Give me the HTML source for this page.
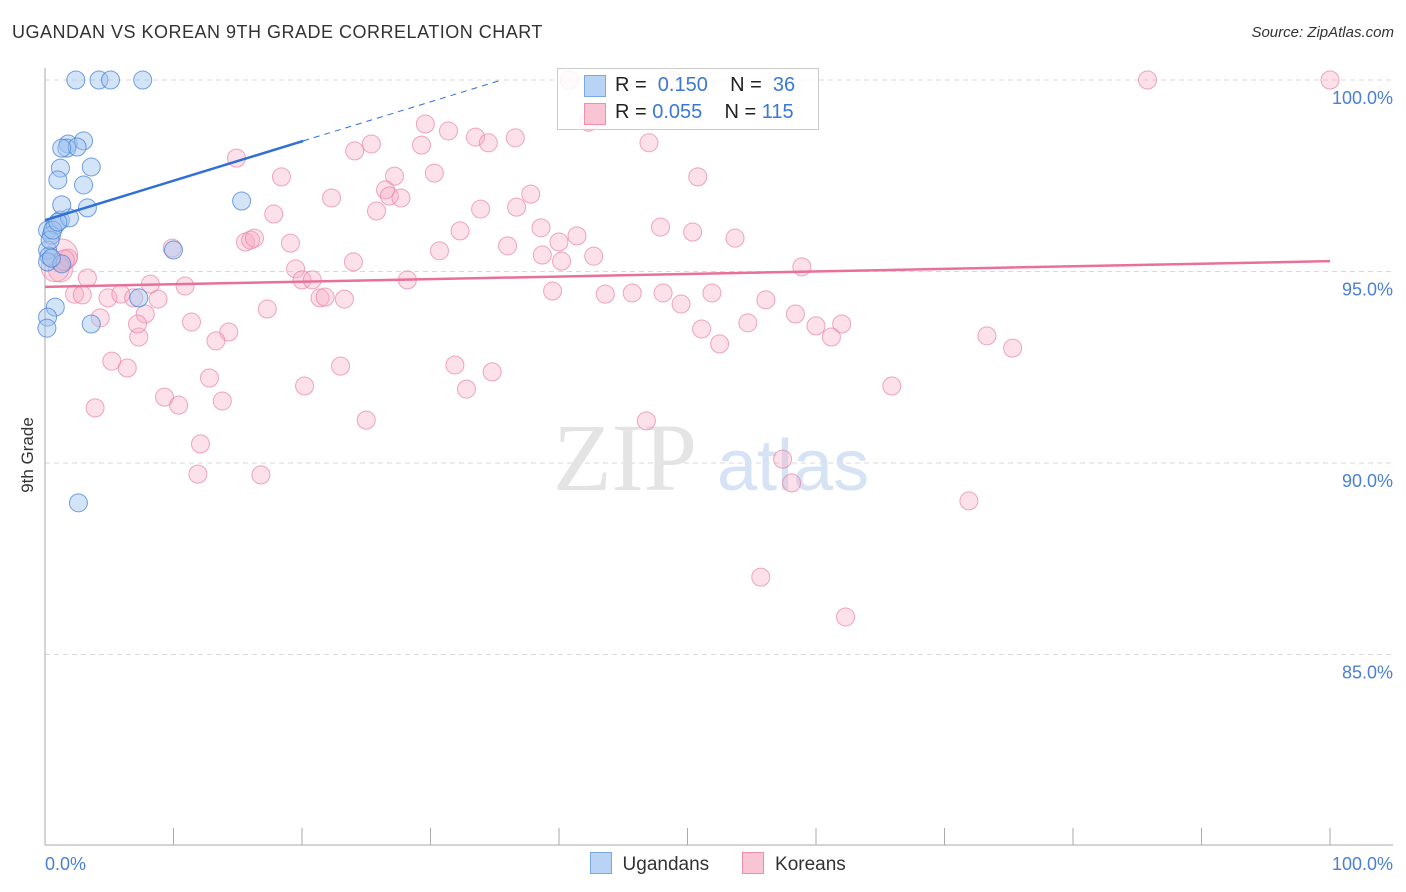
<!DOCTYPE html>
<html><head><meta charset="utf-8">
<style>
body{margin:0;background:#fff;font-family:"Liberation Sans",sans-serif;}
#wrap{position:relative;width:1406px;height:892px;overflow:hidden;}
.t{position:absolute;white-space:nowrap;}
</style></head>
<body>
<div id="wrap">
<div class="t" style="left:12px;top:22px;font-size:18px;color:#333;letter-spacing:0.5px">UGANDAN VS KOREAN 9TH GRADE CORRELATION CHART</div>
<div class="t" style="right:12px;top:24px;font-size:15px;color:#333;font-style:italic">Source: ZipAtlas.com</div>
<div class="t" style="left:28px;top:455px;font-size:17px;color:#333;transform:translate(-50%,-50%) rotate(-90deg)">9th Grade</div>
<svg id="svg" width="1406" height="892" style="position:absolute;left:0;top:0"></svg>
<div class="t" style="left:557px;top:68px;width:262px;height:62px;border:1px solid #ccc;background:rgba(255,255,255,0.85);box-sizing:border-box;font-size:20px;color:#222">
  <div style="position:absolute;left:26px;top:6px;width:20px;height:20px;background:#b9d3f5;border:1px solid #7aa8e6"></div>
  <div style="position:absolute;left:57px;top:5px">R = <span style="color:#3a78d6">&nbsp;0.150</span>&nbsp;&nbsp;&nbsp; N = <span style="color:#3a78d6">&nbsp;36</span></div>
  <div style="position:absolute;left:26px;top:34px;width:20px;height:20px;background:#f9c4d4;border:1px solid #ee8fab"></div>
  <div style="position:absolute;left:57px;top:32px">R = <span style="color:#3a78d6">0.055</span>&nbsp;&nbsp;&nbsp; N = <span style="color:#3a78d6">115</span></div>
</div>
<div class="t" style="left:590px;top:852px;font-size:19px;color:#333">
  <span style="display:inline-block;width:20px;height:20px;background:#b9d3f5;border:1px solid #7aa8e6;vertical-align:-4px"></span>&nbsp; Ugandans
  <span style="display:inline-block;width:20px;height:20px;background:#f9c4d4;border:1px solid #ee8fab;vertical-align:-4px;margin-left:28px"></span>&nbsp; Koreans
</div>
</div>
<script>
const yTicks=[100,95,90,85];
const yTickLabels=["100.0%","95.0%","90.0%","85.0%"];
const xTickLabels=["0.0%","100.0%"];
const blueX=[2.4,4.2,5.1,7.6,1.8,1.7,3.0,2.5,1.3,1.2,1.0,3.0,3.6,0.2,0.8,1.2,1.9,3.3,1.3,0.5,0.2,0.3,0.2,1.3,10.0,15.3,7.3,3.6,0.8,0.2,0.15,2.6,0.4,0.6,1.0,0.5];
const blueY=[100,100,100,100,98.33,98.22,98.41,98.25,98.22,97.7,97.39,97.26,97.73,96.08,96.21,96.34,96.4,96.66,96.74,95.95,95.56,95.4,95.25,95.2,95.56,96.84,94.31,93.63,94.07,93.81,93.52,88.96,95.82,96.08,96.29,95.35];
const pinkX=[40.8,48.8,85.8,100,42.3,47.0,29.6,31.4,33.5,34.5,36.6,25.4,24.1,29.3,14.9,18.4,27.2,30.3,50.8,26.5,26.8,27.7,22.3,37.8,36.7,17.8,25.8,33.9,32.3,38.6,41.4,47.9,50.4,53.7,40.0,15.6,16.0,16.3,19.1,9.9,30.7,36.0,38.7,40.2,42.7,24.0,58.9,19.5,1.3,1.2,1.8,3.3,20.0,20.8,28.2,10.9,8.2,2.3,2.9,4.9,5.9,6.9,8.8,21.4,21.8,23.3,39.5,43.6,45.7,48.1,51.9,49.5,56.1,58.4,17.3,4.3,7.8,11.4,14.3,13.3,7.3,51.1,54.7,60.0,62.0,61.2,52.5,73.3,75.3,5.2,6.4,23.0,31.9,34.8,12.8,20.2,32.8,65.9,9.3,10.4,13.8,3.9,25.0,46.8,12.1,11.9,16.8,57.4,58.1,71.9,55.7,62.3,7.2,0.8,1.5];
const pinkY=[100,100,100,100,98.9,98.36,98.85,98.67,98.51,98.36,98.49,98.33,98.15,98.3,97.96,97.47,97.49,97.57,97.47,97.13,96.97,96.92,96.92,97.02,96.68,96.5,96.58,96.63,96.06,96.14,95.93,96.16,96.03,95.87,95.77,95.77,95.82,95.87,95.74,95.61,95.54,95.67,95.43,95.27,95.4,95.25,95.12,95.07,95.43,95.04,95.35,94.83,94.78,94.78,94.78,94.62,94.67,94.41,94.39,94.31,94.41,94.31,94.28,94.31,94.33,94.28,94.49,94.41,94.44,94.44,94.44,94.15,94.26,93.89,94.02,93.79,93.89,93.68,93.42,93.19,93.29,93.5,93.66,93.58,93.63,93.29,93.11,93.32,93.0,92.66,92.48,92.53,92.56,92.38,92.22,92.01,91.93,92.01,91.72,91.51,91.62,91.44,91.12,91.1,90.5,89.71,89.69,90.1,89.48,89.01,87.02,85.98,93.63,95.1,95.3];
const pinkR=[9,9,9,9,9,9,9,9,9,9,9,9,9,9,9,9,9,9,9,9,9,9,9,9,9,9,9,9,9,9,9,9,9,9,9,9,9,9,9,9,9,9,9,9,9,9,9,9,16,12,9,9,9,9,9,9,9,9,9,9,9,9,9,9,9,9,9,9,9,9,9,9,9,9,9,9,9,9,9,9,9,9,9,9,9,9,9,9,9,9,9,9,9,9,9,9,9,9,9,9,9,9,9,9,9,9,9,9,9,9,9,9,9,14,10];
const blueLine=[96.34,0.103]; // intercept, slope
const pinkLine=[94.6,0.0067];

const X0=45,X1=1330,YTOP=80,PPU=38.3;
const sx=v=>X0+v/100*(X1-X0);
const sy=v=>YTOP+(100-v)*PPU;
const svg=document.getElementById('svg');
const NS='http://www.w3.org/2000/svg';
function mk(tag,attrs){const e=document.createElementNS(NS,tag);for(const k in attrs)e.setAttribute(k,attrs[k]);svg.appendChild(e);return e;}

yTicks.forEach((v,i)=>{
  const g=mk('line',{x1:X0,x2:1393,y1:sy(v),y2:sy(v),stroke:'#d8d8d8','stroke-dasharray':'5,4'});
  
  
  const t=mk('text',{x:1393,y:sy(v)+24,'text-anchor':'end','font-size':18,fill:'#4a7fd4','font-family':'Liberation Sans, sans-serif'});
  t.textContent=yTickLabels[i];
  
  
});
const ax=mk('line',{x1:X0,x2:X0,y1:68,y2:845,stroke:'#aaa'});


const bx=mk('line',{x1:X0,x2:1393,y1:845,y2:845,stroke:'#aaa'});


for(let i=1;i<=10;i++){
  const tk=mk('line',{x1:sx(i*10),x2:sx(i*10),y1:828,y2:845,stroke:'#aaa'});
  
  
}
[[0,'start',X0],[1,'end',1393]].forEach(([i,a,x])=>{
  const t=mk('text',{x:x,y:870,'text-anchor':a,'font-size':18,fill:'#4a7fd4','font-family':'Liberation Sans, sans-serif'});
  t.textContent=xTickLabels[i];
  
  
});
const w1=mk('text',{x:553,y:490,'font-size':96,fill:'#e4e4e4','font-family':'Liberation Serif, serif'});w1.textContent='ZIP';


const w2=mk('text',{x:717,y:490,'font-size':72,fill:'#d6e3f5','font-family':'Liberation Sans, sans-serif'});w2.textContent='atlas';



pinkX.forEach((x,i)=>{
  const c=mk('circle',{cx:sx(x),cy:sy(pinkY[i]),r:pinkR[i]||9,fill:'rgba(246,170,194,0.35)',stroke:'rgba(232,130,162,0.7)','stroke-width':1});
  
  
});
blueX.forEach((x,i)=>{
  const c=mk('circle',{cx:sx(x),cy:sy(blueY[i]),r:9,fill:'rgba(160,196,240,0.45)',stroke:'rgba(70,130,215,0.75)','stroke-width':1});
  
  
});
const xEndSolid=20.1, xEndDash=(100-blueLine[0])/blueLine[1];
const bl=mk('line',{x1:sx(0),y1:sy(blueLine[0]),x2:sx(xEndSolid),y2:sy(blueLine[0]+blueLine[1]*xEndSolid),stroke:'#2f6fd6','stroke-width':2.5});


const bd=mk('line',{x1:sx(xEndSolid),y1:sy(blueLine[0]+blueLine[1]*xEndSolid),x2:sx(xEndDash),y2:sy(100),stroke:'#2f6fd6','stroke-width':1,'stroke-dasharray':'6,5'});


const pl=mk('line',{x1:sx(0),y1:sy(pinkLine[0]),x2:sx(100),y2:sy(pinkLine[0]+pinkLine[1]*100),stroke:'#e8709a','stroke-width':2.5});


</script>
</body></html>
